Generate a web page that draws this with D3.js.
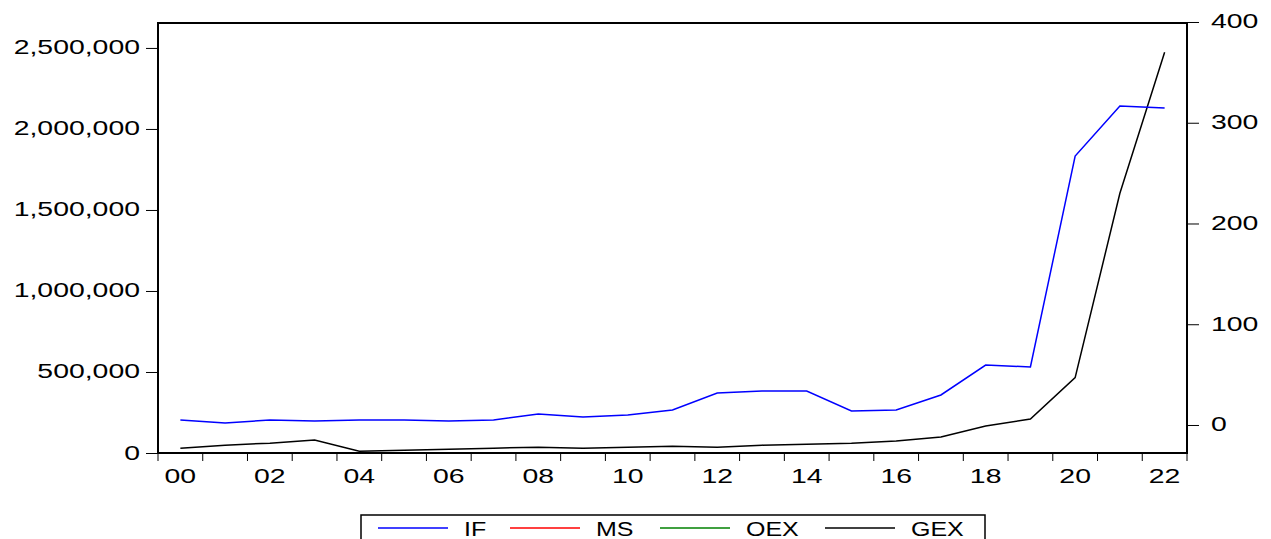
<!DOCTYPE html>
<html><head><meta charset="utf-8">
<script src="https://cdn.jsdelivr.net/npm/d3@7"></script>
<style>body{margin:0;background:#fff}text{font-family:"Liberation Sans",Arial,sans-serif}</style>
</head><body><svg id="c" width="1271" height="539"></svg>
<script>
var years = d3.range(0, 23).map(function (y) { return String(y).padStart(2, "0"); });
var ifVals = [204000,185000,204000,198000,204000,204000,198000,204000,241000,222000,235000,265000,370000,383000,383000,259000,265000,358000,543000,531000,1833000,2142000,2130000];
var msVals = [1,1,1,1,1,1,1,1,1,1,1,1,1,1,1,1,1,1,1,1,1,1,1];
var oexVals = [2,2,2,2,2,2,2,2,2,2,2,2,2,2,2,2,2,2,2,2,2,2,2];
var gexVals = [-23,-20,-18,-15,-26,-25,-24,-23,-22,-23,-22,-21,-22,-20,-19,-18,-16,-12,-1,6,47,230,370];
var leftTicks = [0,500000,1000000,1500000,2000000,2500000];
var rightTicks = [0,100,200,300,400];

var svg = d3.select("#c");
var L = 158, R = 1187, T = 23, B = 453;
var x = d3.scaleBand().domain(years).range([L, R]);
var yl = d3.scaleLinear().domain([0, 2654000]).range([B, T]);
var yr = d3.scaleLinear().domain([-27.8, 399]).range([B, T]);
var cx = function (i) { return x(years[i]) + x.bandwidth() / 2; };

function series(vals, scale, color) {
  svg.append("path").datum(vals)
    .attr("fill", "none").attr("stroke", color).attr("stroke-width", 1.5)
    .attr("d", d3.line().x(function (d, i) { return cx(i); }).y(function (d) { return scale(d); }));
}
series(msVals, yl, "#ff0000");
series(oexVals, yl, "#008000");
series(gexVals, yr, "#000000");
series(ifVals, yl, "#0000ff");

svg.append("rect").attr("x", L).attr("y", T).attr("width", R - L).attr("height", B - T)
  .attr("fill", "none").attr("stroke", "#000").attr("stroke-width", 2);

var font = "20px";
var la = svg.append("g").attr("transform", "translate(" + L + ",0)")
  .call(d3.axisLeft(yl).tickValues(leftTicks).tickSize(12).tickFormat(d3.format(",")));
la.select(".domain").remove();
la.selectAll("text").style("font-size", font).attr("x", -18).attr("dy", "0.3em");

var ra = svg.append("g").attr("transform", "translate(" + R + ",0)")
  .call(d3.axisRight(yr).tickValues(rightTicks).tickSize(12));
ra.select(".domain").remove();
ra.selectAll("text").style("font-size", font).attr("x", 24).attr("dy", "0.3em");

// x ticks at band boundaries
var bounds = d3.range(0, 24).map(function (i) { return L + i * x.step(); });
svg.append("g").selectAll("line").data(bounds).join("line")
  .attr("x1", function (d) { return d; }).attr("x2", function (d) { return d; })
  .attr("y1", B).attr("y2", B + 8).attr("stroke", "#000");
svg.append("g").selectAll("text").data(years.filter(function (y, i) { return i % 2 === 0; })).join("text")
  .attr("x", function (d) { return x(d) + x.bandwidth() / 2; }).attr("y", B + 30)
  .attr("text-anchor", "middle").style("font-size", font).text(function (d) { return d; });

// the reference font is drawn wide
svg.selectAll("text").each(function () {
  var w = this.getComputedTextLength();
  d3.select(this).attr("textLength", w * 1.42).attr("lengthAdjust", "spacingAndGlyphs");
});

// legend
var legend = [["IF", "#0000ff"], ["MS", "#ff0000"], ["OEX", "#008000"], ["GEX", "#000000"]];
var legendX = [378, 510, 660, 825];
svg.append("rect").attr("x", 361).attr("y", 515).attr("width", 624).attr("height", 40)
  .attr("fill", "#fff").attr("stroke", "#000").attr("stroke-width", 1.5);
var lg = svg.append("g").selectAll("g").data(legend).join("g")
  .attr("transform", function (d, i) { return "translate(" + legendX[i] + ",528)"; });
lg.append("line").attr("x1", 0).attr("x2", 70).attr("stroke", function (d) { return d[1]; }).attr("stroke-width", 1.5);
lg.append("text").attr("x", 86).attr("y", 8).style("font-size", font).text(function (d) { return d[0]; })
  .each(function () {
    var w = this.getComputedTextLength();
    d3.select(this).attr("textLength", w * 1.25).attr("lengthAdjust", "spacingAndGlyphs");
  });
</script></body></html>
